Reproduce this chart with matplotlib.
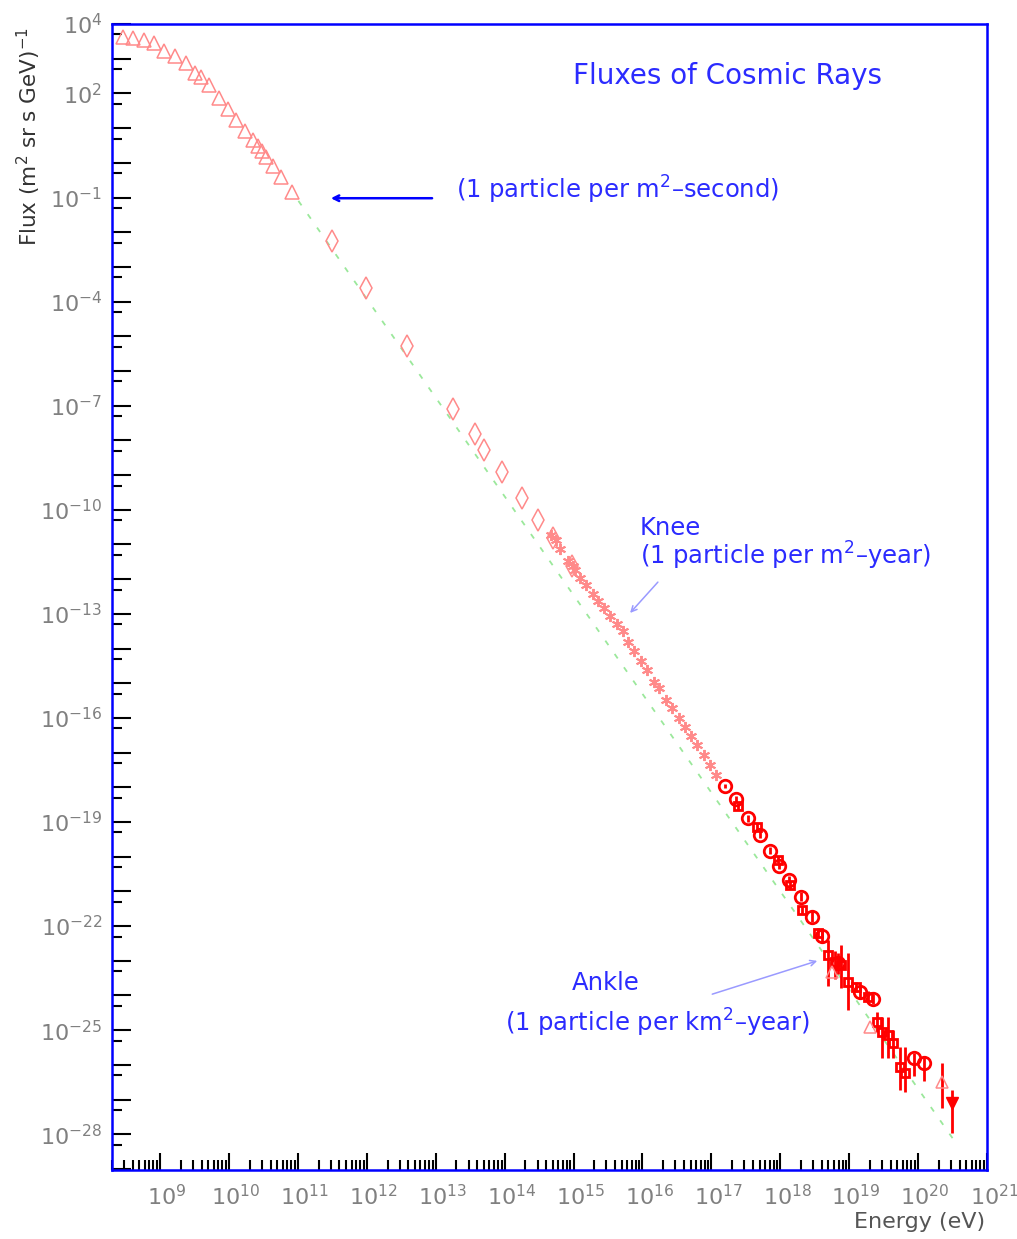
import numpy as np
import matplotlib.pyplot as plt
import matplotlib.transforms as mtransforms
from matplotlib.ticker import FixedLocator, LogLocator, NullFormatter, FuncFormatter

plt.rcParams['font.family'] = ['DejaVu Sans']

# values, as log10(E / eV) and log10(flux)
tri_loge = [8.466, 8.612, 8.772, 8.917, 9.063, 9.218, 9.378, 9.513, 9.596, 9.708,
            9.848, 9.979, 10.105, 10.236, 10.348, 10.415, 10.479, 10.542, 10.639,
            10.756, 10.916]
tri_logf = [3.634, 3.596, 3.538, 3.443, 3.230, 3.085, 2.866, 2.578, 2.462, 2.249,
            1.865, 1.539, 1.230, 0.904, 0.653, 0.489, 0.344, 0.154, -0.088,
            -0.423, -0.838]

dia_loge = [11.497, 11.992, 12.578, 13.257, 13.567, 13.703, 13.960, 14.255, 14.488,
            14.702, 14.978]
dia_logf = [-2.252, -3.597, -5.282, -7.088, -7.809, -8.282, -8.917, -9.656, -10.282,
            -10.801, -11.609]

star_loge = [14.673, 14.745, 14.808, 14.916, 14.988, 15.026, 15.099, 15.182, 15.279,
             15.361, 15.448, 15.535, 15.633, 15.716, 15.797, 15.884, 15.972, 16.069,
             16.167, 16.234, 16.345, 16.428, 16.524, 16.612, 16.699, 16.796, 16.894,
             16.975, 17.073]
star_logf = [-10.714, -10.859, -11.127, -11.485, -11.609, -11.724, -11.964, -12.157,
             -12.417, -12.639, -12.829, -13.072, -13.282, -13.484, -13.822, -14.081,
             -14.370, -14.609, -14.976, -15.137, -15.475, -15.714, -16.003, -16.263,
             -16.534, -16.773, -17.062, -17.350, -17.639]

open_loge = [17.204, 17.353, 17.534, 17.703, 17.848, 17.979, 18.124, 18.299, 18.455,
             18.610, 18.843, 19.157, 19.352, 19.934, 20.079]
open_logf = [-17.956, -18.340, -18.888, -19.370, -19.823, -20.264, -20.668, -21.150,
             -21.727, -22.284, -23.072, -23.891, -24.110, -25.813, -25.957]
open_up = [0.05, 0.1, 0.1, 0.1, 0.1, 0.1, 0.1, 0.12, 0.15, 0.2, 0.3, 0.2, 0.15, 0.15, 0.2]
open_dn = [0.05, 0.1, 0.1, 0.1, 0.1, 0.1, 0.1, 0.12, 0.15, 0.2, 0.3, 0.2, 0.15, 0.5, 0.5]

full_loge = [17.388, 17.655, 17.970, 18.139, 18.309, 18.552, 18.697, 18.793, 18.881,
             18.978, 19.100, 19.279, 19.400, 19.473, 19.570, 19.643, 19.739, 19.812]
full_logf = [-18.553, -19.130, -20.091, -20.812, -21.534, -22.206, -22.832, -23.025,
             -23.121, -23.602, -23.750, -24.035, -24.756, -25.045, -25.141, -25.380,
             -26.055, -26.245]
full_up = [0.1, 0.1, 0.1, 0.12, 0.12, 0.15, 0.43, 0.3, 0.58, 0.83, 0.15, 0.15, 0.29,
           0.42, 0.52, 0.38, 0.57, 0.76]
full_dn = [0.1, 0.1, 0.1, 0.12, 0.12, 0.15, 0.9, 0.5, 0.66, 0.82, 0.15, 0.15, 0.29,
           0.76, 0.66, 0.43, 0.67, 0.54]

hi_tri_loge = [18.745, 19.298, 20.345]
hi_tri_logf = [-23.323, -24.909, -26.487]
hi_tri_up = [0.0, 0.0, 0.54]
hi_tri_dn = [0.0, 0.0, 0.76]

last_loge = [20.491]
last_logf = [-27.111]
last_up = [0.38]
last_dn = [0.86]

# E^-2.85 reference line
line_loge = [11.007, 20.588]
line_logf = [-1.098, -28.363]

x_decades = list(range(9, 22))
y_decades = list(range(-29, 5))
y_labelled = [4, 2, -1, -4, -7, -10, -13, -16, -19, -22, -25, -28]


def lin(a):
    return 10.0 ** np.array(a)


def yerr(logf, up, dn):
    f = lin(logf)
    return [f - f * 10.0 ** -np.array(dn), f * 10.0 ** np.array(up) - f]


fig = plt.figure(figsize=(10.17, 12.39), dpi=100)
ax = fig.add_axes([0.1101, 0.0557, 0.8604, 0.9249])
ax.set_xscale('log')
ax.set_yscale('log')
ax.set_xlim(2e8, 1e21)
ax.set_ylim(10 ** -29.03, 1e4)

pale = '#ff8a8a'
red = '#ff0000'

ax.plot(lin(line_loge), lin(line_logf), color='#9be89b', lw=1.3,
        linestyle=(0, (3, 6)), zorder=1)

ax.plot(lin(tri_loge), lin(tri_logf), ls='none', marker='^', ms=10,
        mfc='none', mec=pale, mew=1.1)
ax.plot(lin(dia_loge), lin(dia_logf), ls='none', marker='d', ms=11,
        mfc='none', mec=pale, mew=1.1)
ax.plot(lin(star_loge), lin(star_logf), ls='none', marker=(6, 2, 0), ms=8,
        color=pale, mew=1.4)

ax.errorbar(lin(open_loge), lin(open_logf), yerr=yerr(open_logf, open_up, open_dn),
            fmt='o', ms=9, mfc='none', mec=red, mew=2, ecolor=red, elinewidth=2,
            capsize=0)
ax.errorbar(lin(full_loge), lin(full_logf), yerr=yerr(full_logf, full_up, full_dn),
            fmt='s', ms=6, mfc='none', mec=red, mew=2, ecolor=red, elinewidth=2,
            capsize=0)
ax.errorbar(lin(hi_tri_loge), lin(hi_tri_logf),
            yerr=yerr(hi_tri_logf, hi_tri_up, hi_tri_dn),
            fmt='^', ms=9, mfc='none', mec=pale, mew=1.1, ecolor=red,
            elinewidth=2, capsize=0)
ax.errorbar(lin(last_loge), lin(last_logf), yerr=yerr(last_logf, last_up, last_dn),
            fmt='v', ms=8, color=red, ecolor=red, elinewidth=2, capsize=0)

# axes frame and ticks
for s in ax.spines.values():
    s.set_color('#0000ff')
    s.set_linewidth(1.8)

ax.xaxis.set_major_locator(FixedLocator(lin(x_decades)))
ax.xaxis.set_minor_locator(LogLocator(base=10, subs=np.arange(2, 10), numticks=50))
ax.xaxis.set_minor_formatter(NullFormatter())
ax.xaxis.set_major_formatter(FuncFormatter(
    lambda v, p: '$10^{%d}$' % round(np.log10(v))))

ax.yaxis.set_major_locator(FixedLocator(lin(y_decades)))
ax.yaxis.set_minor_locator(FixedLocator(5 * lin(np.array(y_decades) - 1)))
ax.yaxis.set_minor_formatter(NullFormatter())
ax.yaxis.set_major_formatter(FuncFormatter(
    lambda v, p: '$10^{%d}$' % round(np.log10(v))
    if round(np.log10(v)) in y_labelled else ''))

ax.tick_params(axis='x', which='major', direction='in', length=12.5, width=1.5,
               color='black', labelsize=16, labelcolor='#808080', pad=10)
ax.tick_params(axis='x', which='minor', direction='in', length=7, width=1.5,
               color='black')
ax.tick_params(axis='y', which='major', direction='in', length=14, width=1.5,
               color='black', labelsize=16, labelcolor='#808080', pad=7)
ax.tick_params(axis='y', which='minor', direction='in', length=7, width=1.5,
               color='black')

shift = mtransforms.ScaledTranslation(5 / 72, 0, fig.dpi_scale_trans)
for lab in ax.get_xticklabels():
    lab.set_transform(lab.get_transform() + shift)

fig.text(0.028, 1 - 27 / 1239, 'Flux (m$^2$ sr s GeV)$^{-1}$', rotation=90,
         ha='center', va='top', fontsize=15.5, color='#333333')
fig.text(985 / 1017, 1 - 1222 / 1239, 'Energy (eV)', ha='right', va='center',
         fontsize=16, color='#555555')

blue = '#2b2bff'
ax.text(0.527, 0.9546, 'Fluxes of Cosmic Rays', transform=ax.transAxes,
        ha='left', va='center', fontsize=20, color=blue)

ax.text(0.393, 0.855, '(1 particle per m$^2$\u2013second)', transform=ax.transAxes,
        ha='left', va='center', fontsize=17.5, color=blue)
ax.annotate('', xy=(0.247, 0.848), xytext=(0.369, 0.848), xycoords='axes fraction',
            arrowprops=dict(arrowstyle='->', color='#0000ff', lw=1.8))

ax.text(0.603, 0.560, 'Knee', transform=ax.transAxes, ha='left', va='center',
        fontsize=17.5, color=blue)
ax.text(0.603, 0.5358, '(1 particle per m$^2$\u2013year)', transform=ax.transAxes,
        ha='left', va='center', fontsize=17.5, color=blue)
ax.annotate('', xy=(0.590, 0.4843), xytext=(0.626, 0.5148), xycoords='axes fraction',
            arrowprops=dict(arrowstyle='->', color='#9a9aff', lw=1.1))

ax.text(0.526, 0.1632, 'Ankle', transform=ax.transAxes, ha='left', va='center',
        fontsize=17.5, color=blue)
ax.text(0.449, 0.1283, '(1 particle per km$^2$\u2013year)', transform=ax.transAxes,
        ha='left', va='center', fontsize=17.5, color=blue)
ax.annotate('', xy=(0.809, 0.1832), xytext=(0.683, 0.1527), xycoords='axes fraction',
            arrowprops=dict(arrowstyle='->', color='#9a9aff', lw=1.1))

fig.savefig('out.png', dpi=100)
